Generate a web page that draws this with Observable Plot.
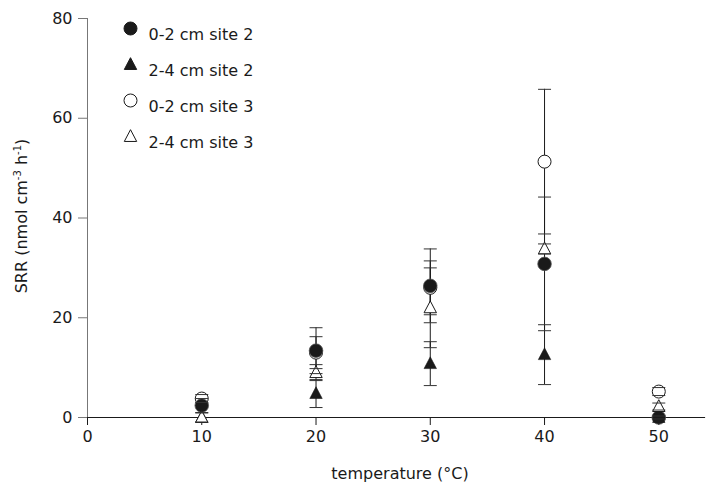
<!DOCTYPE html>
<html>
<head>
<meta charset="utf-8">
<script src="https://cdn.jsdelivr.net/npm/d3@7"></script>
<script src="https://cdn.jsdelivr.net/npm/@observablehq/plot@0.6"></script>
<style>
  html, body { margin: 0; padding: 0; background: #fff; }
  #chart svg { display: block; }
</style>
</head>
<body>
<div id="chart"></div>
<script>
// ---- data ----
const temperatures = [10, 20, 30, 40, 50];
const xTicks = [0, 10, 20, 30, 40, 50];
const yTicks = [0, 20, 40, 60, 80];

const seriesNames = ["0-2 cm site 2", "2-4 cm site 2", "0-2 cm site 3", "2-4 cm site 3"];

const site2_0_2 = [2.4, 13.4, 26.4, 30.8, 0.0];
const site2_0_2_err = [1.4, 4.6, 7.4, 13.4, 0.3];

const site2_2_4 = [0.0, 4.8, 10.8, 12.6, 0.0];
const site2_2_4_err = [0.0, 2.8, 4.4, 6.0, 0.0];

const site3_0_2 = [3.8, 13.0, 26.0, 51.3, 5.2];
const site3_0_2_err = [0.8, 3.2, 5.4, 14.5, 0.8];

const site3_2_4 = [0.0, 9.0, 22.0, 33.8, 2.2];
const site3_2_4_err = [0.9, 1.6, 8.0, 1.0, 0.7];

// ---- build table ----
function rows(name, vals, errs) {
  return temperatures.map((t, i) => ({series: name, t, v: vals[i], lo: vals[i] - errs[i], hi: vals[i] + errs[i]}));
}
const dFC = rows(seriesNames[0], site2_0_2, site2_0_2_err);
const dFT = rows(seriesNames[1], site2_2_4, site2_2_4_err);
const dOC = rows(seriesNames[2], site3_0_2, site3_0_2_err);
const dOT = rows(seriesNames[3], site3_2_4, site3_2_4_err);
const all = [...dOC, ...dFC, ...dFT, ...dOT];

// custom symbols
const capSymbol = {draw(ctx, size) { const w = Math.sqrt(size / Math.PI); ctx.moveTo(-w, 0); ctx.lineTo(w, 0); }};
const triSymbol = {draw(ctx, size) { const s = Math.sqrt(size / Math.PI); ctx.moveTo(0, -1.1 * s); ctx.lineTo(s, 0.8 * s); ctx.lineTo(-s, 0.8 * s); ctx.closePath(); }};

const ink = "#1a1a1a";
const font = "'DejaVu Sans', sans-serif";
const fs = 16;

const legend = [
  {name: seriesNames[0], symbol: "circle", fill: ink, r: 6.5},
  {name: seriesNames[1], symbol: triSymbol, fill: ink, r: 6.2},
  {name: seriesNames[2], symbol: "circle", fill: "white", r: 6.5},
  {name: seriesNames[3], symbol: triSymbol, fill: "white", r: 6.2}
];
const legendRowDy = [10, 46, 82, 118];

const legendMarks = legend.flatMap((L, i) => [
  Plot.dot([L], {frameAnchor: "top-left", dx: 43, dy: legendRowDy[i], symbol: () => L.symbol, r: L.r, fill: L.fill, stroke: ink, strokeWidth: 1}),
  Plot.text([L], {frameAnchor: "top-left", dx: 61, dy: legendRowDy[i], text: "name", textAnchor: "start", fontSize: fs, fill: ink})
]);

const plot = Plot.plot({
  width: 710,
  height: 484,
  marginLeft: 87,
  marginTop: 18,
  marginBottom: 67,
  marginRight: 6,
  style: {fontFamily: font, fontSize: fs + "px", color: ink, background: "white"},
  x: {domain: [0, 54], ticks: xTicks, label: null},
  y: {domain: [0, 80], ticks: yTicks, label: null},
  marks: [
    Plot.frame({anchor: "left", stroke: "#777"}),
    Plot.frame({anchor: "bottom", stroke: ink, strokeWidth: 1.2}),
    Plot.axisX({ticks: xTicks, tickSize: 8, tickPadding: 5, fontSize: fs, stroke: ink, label: null}),
    Plot.axisY({ticks: yTicks, tickSize: 9, tickPadding: 6, fontSize: fs, stroke: "#777", fill: ink, label: null}),
    // error bars
    Plot.ruleX(all, {x: "t", y1: "lo", y2: "hi", stroke: ink, strokeWidth: 1}),
    // markers
    Plot.dot(dOC, {x: "t", y: "v", symbol: "circle", r: 6.5, fill: "white", stroke: ink, strokeWidth: 1}),
    Plot.dot(dFC, {x: "t", y: "v", symbol: "circle", r: 6.8, fill: ink, stroke: "#555", strokeWidth: 0.8}),
    Plot.dot(dFT, {x: "t", y: "v", symbol: triSymbol, r: 6.2, fill: ink, stroke: ink, strokeWidth: 0.6}),
    Plot.dot(dOT, {x: "t", y: "v", symbol: triSymbol, r: 6.2, fill: "white", stroke: ink, strokeWidth: 1}),
    // caps
    Plot.dot(all.filter(d => d.hi !== d.lo), {x: "t", y: "hi", symbol: capSymbol, r: 6.5, stroke: "#333", strokeWidth: 1}),
    Plot.dot(all.filter(d => d.hi !== d.lo), {x: "t", y: "lo", symbol: capSymbol, r: 6.5, stroke: "#333", strokeWidth: 1}),
    ...legendMarks
  ]
});

const svg = d3.select(plot);
// x axis title
svg.append("text")
  .attr("x", 400).attr("y", 479)
  .attr("text-anchor", "middle")
  .attr("font-family", font).attr("font-size", fs).attr("fill", ink)
  .text("temperature (°C)");
// y axis title with superscripts
const yl = svg.append("text")
  .attr("transform", "translate(27,216) rotate(-90)")
  .attr("text-anchor", "middle")
  .attr("font-family", font).attr("font-size", fs).attr("fill", ink);
yl.append("tspan").text("SRR (nmol cm");
yl.append("tspan").attr("font-size", 10).attr("dy", -6).text("-3");
yl.append("tspan").attr("dy", 6).text(" h");
yl.append("tspan").attr("font-size", 10).attr("dy", -6).text("-1");
yl.append("tspan").attr("dy", 6).text(")");

document.getElementById("chart").appendChild(plot);
</script>
</body>
</html>
